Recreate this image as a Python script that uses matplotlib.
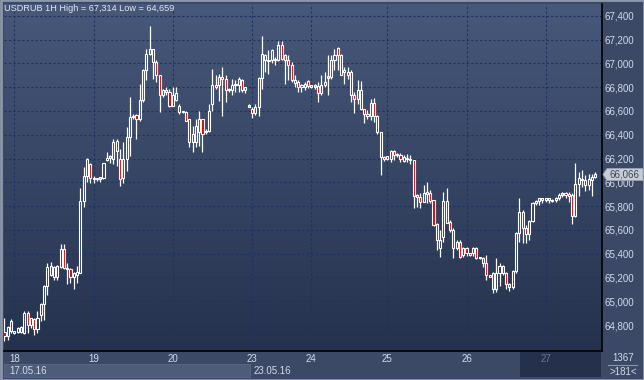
import matplotlib

matplotlib.use("Agg")
import matplotlib.pyplot as plt
import numpy as np
from matplotlib.colors import LinearSegmentedColormap
from matplotlib.patches import Rectangle, Polygon

plt.rcParams["font.family"] = ["Liberation Sans", "DejaVu Sans"]

# USDRUB 1H candles (open, high, low, close)
opens = [
    64.738, 64.710, 64.831, 64.732, 64.738, 64.783, 64.732, 64.901, 64.803, 64.851,
    64.766, 64.887, 64.977, 65.127, 65.296, 65.206, 65.206, 65.290, 65.442, 65.268,
    65.268, 65.206, 65.225, 65.239, 65.845, 66.056, 66.152, 66.039, 66.025, 66.030,
    66.039, 66.189, 66.208, 66.194, 66.349, 66.194, 66.039, 66.194, 66.377, 66.546,
    66.566, 66.532, 66.693, 66.946, 67.082, 67.124, 67.011, 66.898, 66.730, 66.772,
    66.758, 66.645, 66.696, 66.645, 66.589, 66.589, 66.532, 66.335, 66.335, 66.420,
    66.532, 66.420, 66.434, 66.659, 66.820, 66.814, 66.884, 66.870, 66.772, 66.772,
    66.814, 66.814, 66.862, 66.772, 66.634, 66.620, 66.586, 66.634, 66.877, 67.074,
    67.017, 67.026, 67.026, 67.031, 67.152, 67.031, 67.031, 66.984, 66.838, 66.844,
    66.802, 66.802, 66.849, 66.810, 66.802, 66.810, 66.754, 66.816, 66.877, 66.886,
    67.031, 67.130, 67.074, 66.947, 66.928, 66.928, 66.737, 66.704, 66.774, 66.614,
    66.578, 66.558, 66.670, 66.558, 66.424, 66.214, 66.194, 66.194, 66.261, 66.228,
    66.228, 66.177, 66.200, 66.186, 66.186, 65.877, 65.878, 65.836, 65.900, 65.911,
    65.850, 65.648, 65.444, 65.542, 65.841, 65.668, 65.598, 65.444, 65.500, 65.388,
    65.449, 65.402, 65.402, 65.452, 65.360, 65.365, 65.323, 65.220, 65.234, 65.100,
    65.234, 65.295, 65.234, 65.144, 65.122, 65.253, 65.578, 65.752, 65.620, 65.564,
    65.673, 65.830, 65.841, 65.855, 65.850, 65.864, 65.841, 65.850, 65.872, 65.892,
    65.900, 65.883, 65.892, 65.715, 65.990, 66.032, 66.023, 65.981, 66.023, 66.046,
]
highs = [
    64.859, 64.790, 64.851, 64.750, 64.780, 64.790, 64.915, 64.915, 64.860, 64.859,
    64.915, 64.986, 65.140, 65.324, 65.332, 65.296, 65.301, 65.479, 65.479, 65.324,
    65.282, 65.245, 65.296, 65.949, 66.127, 66.203, 66.166, 66.054, 66.040, 66.045,
    66.166, 66.251, 66.228, 66.363, 66.363, 66.279, 66.335, 66.462, 66.716, 66.575,
    66.575, 66.828, 66.955, 67.124, 67.314, 67.124, 67.025, 66.898, 66.786, 66.800,
    66.786, 66.800, 66.800, 66.659, 66.603, 66.603, 66.532, 66.476, 66.532, 66.603,
    66.532, 66.448, 66.659, 66.955, 66.898, 66.913, 66.969, 66.898, 66.790, 66.870,
    66.856, 66.884, 66.870, 66.805, 66.660, 66.634, 66.662, 66.886, 67.228, 67.082,
    67.116, 67.124, 67.050, 67.186, 67.186, 67.082, 67.068, 67.012, 66.900, 66.858,
    66.830, 66.844, 66.858, 66.815, 66.830, 66.844, 66.900, 66.928, 67.068, 67.068,
    67.124, 67.138, 67.082, 66.970, 66.970, 66.942, 66.760, 66.858, 66.849, 66.620,
    66.606, 66.704, 66.709, 66.564, 66.424, 66.219, 66.225, 66.270, 66.270, 66.250,
    66.250, 66.228, 66.242, 66.228, 66.191, 65.905, 65.906, 65.976, 66.004, 65.934,
    65.850, 65.654, 65.598, 65.920, 65.953, 65.682, 65.612, 65.514, 65.514, 65.458,
    65.458, 65.410, 65.458, 65.458, 65.372, 65.374, 65.388, 65.225, 65.248, 65.360,
    65.318, 65.304, 65.248, 65.150, 65.260, 65.584, 65.872, 65.766, 65.640, 65.682,
    65.836, 65.850, 65.872, 65.872, 65.872, 65.872, 65.860, 65.878, 65.906, 65.920,
    65.920, 65.920, 65.906, 66.166, 66.088, 66.102, 66.060, 66.074, 66.074, 66.088,
]
lows = [
    64.662, 64.676, 64.732, 64.725, 64.730, 64.730, 64.724, 64.732, 64.775, 64.718,
    64.732, 64.831, 64.845, 65.056, 65.211, 65.183, 65.183, 65.282, 65.268, 65.146,
    65.155, 65.104, 65.155, 65.239, 65.789, 66.000, 65.997, 65.997, 66.015, 66.006,
    66.025, 66.180, 66.166, 66.152, 66.138, 65.969, 65.997, 66.096, 66.222, 66.532,
    66.363, 66.518, 66.673, 66.856, 67.068, 66.870, 66.842, 66.594, 66.716, 66.730,
    66.631, 66.645, 66.687, 66.575, 66.585, 66.518, 66.293, 66.251, 66.293, 66.307,
    66.251, 66.406, 66.420, 66.603, 66.786, 66.687, 66.561, 66.673, 66.760, 66.730,
    66.758, 66.758, 66.758, 66.752, 66.630, 66.541, 66.564, 66.558, 66.788, 66.930,
    66.914, 67.000, 66.984, 67.020, 67.031, 66.830, 66.858, 66.844, 66.802, 66.760,
    66.760, 66.774, 66.793, 66.795, 66.788, 66.676, 66.732, 66.802, 66.732, 66.872,
    66.942, 66.942, 66.900, 66.830, 66.872, 66.676, 66.586, 66.662, 66.606, 66.502,
    66.536, 66.522, 66.508, 66.410, 66.065, 66.177, 66.190, 66.172, 66.186, 66.214,
    66.172, 66.172, 66.172, 66.158, 65.785, 65.793, 65.785, 65.836, 65.822, 65.822,
    65.631, 65.430, 65.368, 65.500, 65.654, 65.584, 65.360, 65.430, 65.360, 65.374,
    65.379, 65.380, 65.379, 65.354, 65.355, 65.290, 65.178, 65.200, 65.070, 65.080,
    65.130, 65.220, 65.100, 65.090, 65.100, 65.240, 65.500, 65.486, 65.486, 65.519,
    65.668, 65.808, 65.808, 65.822, 65.836, 65.822, 65.836, 65.836, 65.855, 65.878,
    65.872, 65.836, 65.648, 65.710, 65.883, 65.962, 65.928, 65.934, 65.883, 66.040,
]
closes = [
    64.710, 64.783, 64.746, 64.746, 64.775, 64.738, 64.901, 64.803, 64.859, 64.766,
    64.859, 64.977, 65.127, 65.290, 65.217, 65.290, 65.296, 65.442, 65.282, 65.282,
    65.206, 65.239, 65.245, 65.845, 66.056, 66.197, 66.039, 66.025, 66.034, 66.039,
    66.160, 66.208, 66.222, 66.341, 66.265, 66.025, 66.194, 66.377, 66.546, 66.561,
    66.532, 66.693, 66.946, 67.082, 67.124, 67.011, 66.898, 66.730, 66.772, 66.758,
    66.645, 66.730, 66.752, 66.589, 66.597, 66.518, 66.335, 66.406, 66.476, 66.532,
    66.406, 66.434, 66.603, 66.820, 66.800, 66.884, 66.870, 66.772, 66.786, 66.814,
    66.828, 66.870, 66.772, 66.805, 66.645, 66.586, 66.634, 66.877, 67.082, 67.031,
    67.031, 67.110, 67.040, 67.152, 67.040, 67.074, 66.984, 66.858, 66.858, 66.802,
    66.816, 66.830, 66.810, 66.802, 66.810, 66.754, 66.816, 66.844, 66.886, 67.031,
    67.074, 67.074, 66.905, 66.928, 66.900, 66.732, 66.704, 66.774, 66.614, 66.578,
    66.558, 66.670, 66.558, 66.424, 66.214, 66.194, 66.219, 66.261, 66.228, 66.242,
    66.194, 66.211, 66.194, 66.200, 65.883, 65.891, 65.836, 65.906, 65.920, 65.844,
    65.640, 65.514, 65.514, 65.841, 65.659, 65.598, 65.452, 65.500, 65.374, 65.444,
    65.402, 65.388, 65.449, 65.360, 65.368, 65.318, 65.220, 65.206, 65.100, 65.234,
    65.295, 65.239, 65.144, 65.122, 65.253, 65.578, 65.752, 65.620, 65.564, 65.673,
    65.830, 65.841, 65.864, 65.864, 65.864, 65.855, 65.855, 65.872, 65.892, 65.900,
    65.892, 65.900, 65.715, 65.990, 66.040, 66.018, 65.981, 66.032, 66.046, 66.066,
]

price_ticks = [64.8, 65.0, 65.2, 65.4, 65.6, 65.8, 66.0, 66.2, 66.4, 66.6, 66.8, 67.0, 67.2, 67.4]
day_labels = ["18", "19", "20", "23", "24", "25", "26", "27"]
day_start_bar = [3, 27, 51, 75, 93, 116, 140, 164]
week_labels = ["17.05.16", "23.05.16"]
title = "USDRUB 1H High = 67,314 Low = 64,659"
last_price = "66,066"
bar_total = "1367"
bars_shown = ">181<"

W, H = 644, 380
BG = "#3b4966"
TXT = "#d3dbea"


def fx(px):
    return px / W


def fy(py):
    return 1 - py / H


def comma(v):
    return f"{v:.3f}".replace(".", ",")


fig = plt.figure(figsize=(W / 100, H / 100), dpi=100)
fig.patch.set_facecolor(BG)
ax = fig.add_axes([fx(4), fy(351), fx(602) - fx(4), fy(4) - fy(351)])
ax.set_zorder(2)

# vertical gradient background of the price pane
grad = LinearSegmentedColormap.from_list("pane", ["#25324e", "#48587a"])
ax.imshow(np.linspace(0, 1, 256).reshape(-1, 1), cmap=grad, origin="lower", aspect="auto",
          extent=[0, 1, 0, 1], transform=ax.transAxes, zorder=0)

o, h, l, c = map(np.array, (opens, highs, lows, closes))
x = np.arange(len(o))
top = np.maximum(o, c)
bot = np.minimum(o, c)
height = np.maximum(top - bot, 0.014)
ax.vlines(x, top, h, color="white", linewidth=0.9, zorder=3)
ax.vlines(x, l, bot, color="white", linewidth=0.9, zorder=3)
faces = ["#e00000" if cc < oo else "none" for oo, cc in zip(o, c)]
ax.bar(x, height, bottom=bot, width=0.62, color=faces, edgecolor="white", linewidth=0.8, zorder=4)

ax.set_xlim(-0.15, 181.06)
ax.set_ylim(64.582, 67.499)

ax.set_yticks(price_ticks)
ax.set_yticklabels([comma(v) for v in price_ticks])
ax.yaxis.tick_right()
ax.set_xticks(day_start_bar)
ax.set_xticklabels(day_labels)
ax.tick_params(axis="y", length=0, pad=1.5, labelsize=7, labelcolor=TXT)
ax.tick_params(axis="x", length=0, pad=2.5, labelsize=7, labelcolor=TXT)
ax.grid(True, color="#1c3362", linestyle=(0, (2, 2)), linewidth=0.8, zorder=1)
ax.set_axisbelow(True)
for side in ("top", "left"):
    ax.spines[side].set_visible(False)
for side in ("right", "bottom"):
    ax.spines[side].set_color("black")
    ax.spines[side].set_linewidth(1.2)
# last day label sits in the dark block, dimmed
ax.get_xticklabels()[-1].set_color("#6a7793")

fig.text(fx(4), fy(8.5), title, color="#e2e8f3", fontsize=6.6, va="center", ha="left", zorder=5)


def box(x0, y0, x1, y1, **kw):
    fig.add_artist(Rectangle((fx(x0), fy(y1)), fx(x1) - fx(x0), fy(y0) - fy(y1),
                             transform=fig.transFigure, zorder=1, **kw))


# bottom date band
box(4, 364, 250, 377, facecolor="#4d5c7a", edgecolor="#5b6986", linewidth=0.6)
box(520, 352, 601, 377, facecolor="#25314c", edgecolor="none")
fig.text(fx(9), fy(371), week_labels[0], color=TXT, fontsize=7, va="center", ha="left", zorder=5)
fig.text(fx(254), fy(371), week_labels[1], color=TXT, fontsize=7, va="center", ha="left", zorder=5)

# bar counter at the bottom right
fig.text(fx(623), fy(358), bar_total, color=TXT, fontsize=7, va="center", ha="center", zorder=5)
fig.add_artist(plt.Line2D([fx(608), fx(637)], [fy(365), fy(365)], color="#8a93a6",
                          linewidth=0.8, transform=fig.transFigure, zorder=5))
fig.text(fx(623), fy(372), bars_shown, color=TXT, fontsize=7, va="center", ha="center", zorder=5)

# last price tag
tag = Polygon([(fx(603), fy(174.5)), (fx(607), fy(168.5)), (fx(643), fy(168.5)),
               (fx(643), fy(180.5)), (fx(607), fy(180.5))], closed=True, zorder=5,
              transform=fig.transFigure, facecolor="#c6cbd4", edgecolor="#9aa2b2", linewidth=0.6)
fig.add_artist(tag)
fig.text(fx(625), fy(174.5), last_price, color="#3a4560", fontsize=7, va="center", ha="center", zorder=6)

# outer frame
box(0.5, 0.5, 643.5, 379.5, facecolor="none", edgecolor="#8d97ab", linewidth=2.0)

fig.savefig("out.png", dpi=100, facecolor=fig.get_facecolor())
